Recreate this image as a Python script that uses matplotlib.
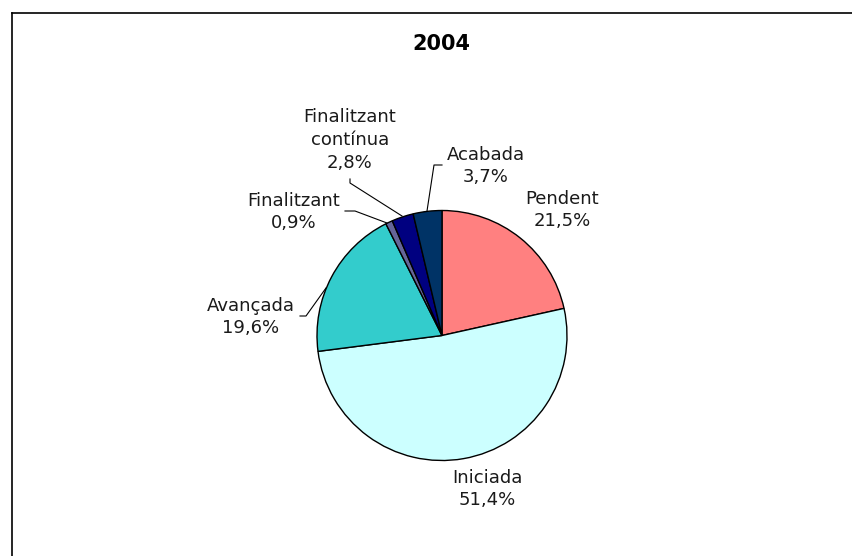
import matplotlib
matplotlib.use("Agg")
import matplotlib.pyplot as plt
from matplotlib.lines import Line2D

title = "2004"
categories = ["Pendent", "Iniciada", "Avançada", "Finalitzant", "Finalitzant\ncontínua", "Acabada"]
values = [21.5, 51.4, 19.6, 0.9, 2.8, 3.7]
colors = ["#FF8080", "#CCFFFF", "#33CCCC", "#666699", "#000080", "#003366"]

W, H = 852, 556
DPI = 100
fig = plt.figure(figsize=(W / DPI, H / DPI), dpi=DPI)
fig.patch.set_facecolor("white")

cx, cy, R = 442, 335.5, 125
ax = fig.add_axes([(cx - R) / W, (H - cy - R) / H, 2 * R / W, 2 * R / H])
ax.pie(values, colors=colors, startangle=90, counterclock=False, radius=1.0,
       wedgeprops=dict(edgecolor="black", linewidth=1.0))
ax.set_xlim(-1, 1)
ax.set_ylim(-1, 1)
ax.set_aspect("equal")
ax.axis("off")

def d(px, py):
    return ((px - cx) / R, (cy - py) / R)

# label block centres (pixels)
label_pos = [(562, 210), (487, 489), (251, 317), (294, 212), (350, 140), (486, 166)]
for name, v, pos in zip(categories, values, label_pos):
    txt = f"{name}\n{v:.1f}%".replace(".", ",")
    x, y = d(*pos)
    ax.text(x, y, txt, ha="center", va="center", fontsize=13, color="#1a1a1a",
            linespacing=1.35, clip_on=False)

# leader lines (pixels)
leaders = [
    [(427, 211), (434, 165), (442, 165)],
    [(402, 216), (350, 183), (350, 179)],
    [(387, 223), (355, 211), (345, 211)],
    [(326, 288), (306, 316), (300, 316)],
]
for pts in leaders:
    xs, ys = zip(*[d(*p) for p in pts])
    ax.plot(xs, ys, color="black", lw=0.8, clip_on=False)

fig.text(441 / W, 1 - 44 / H, title, ha="center", va="center", fontsize=15,
         fontweight="bold", color="black")

# chart frame (left and top edges visible)
fig.add_artist(Line2D([11.5 / W, 11.5 / W], [0, 1 - 13 / H], color="black", lw=1.2,
                      transform=fig.transFigure))
fig.add_artist(Line2D([11.5 / W, 1], [1 - 13 / H, 1 - 13 / H], color="black", lw=1.2,
                      transform=fig.transFigure))

fig.savefig("out.png", dpi=DPI, facecolor="white")
